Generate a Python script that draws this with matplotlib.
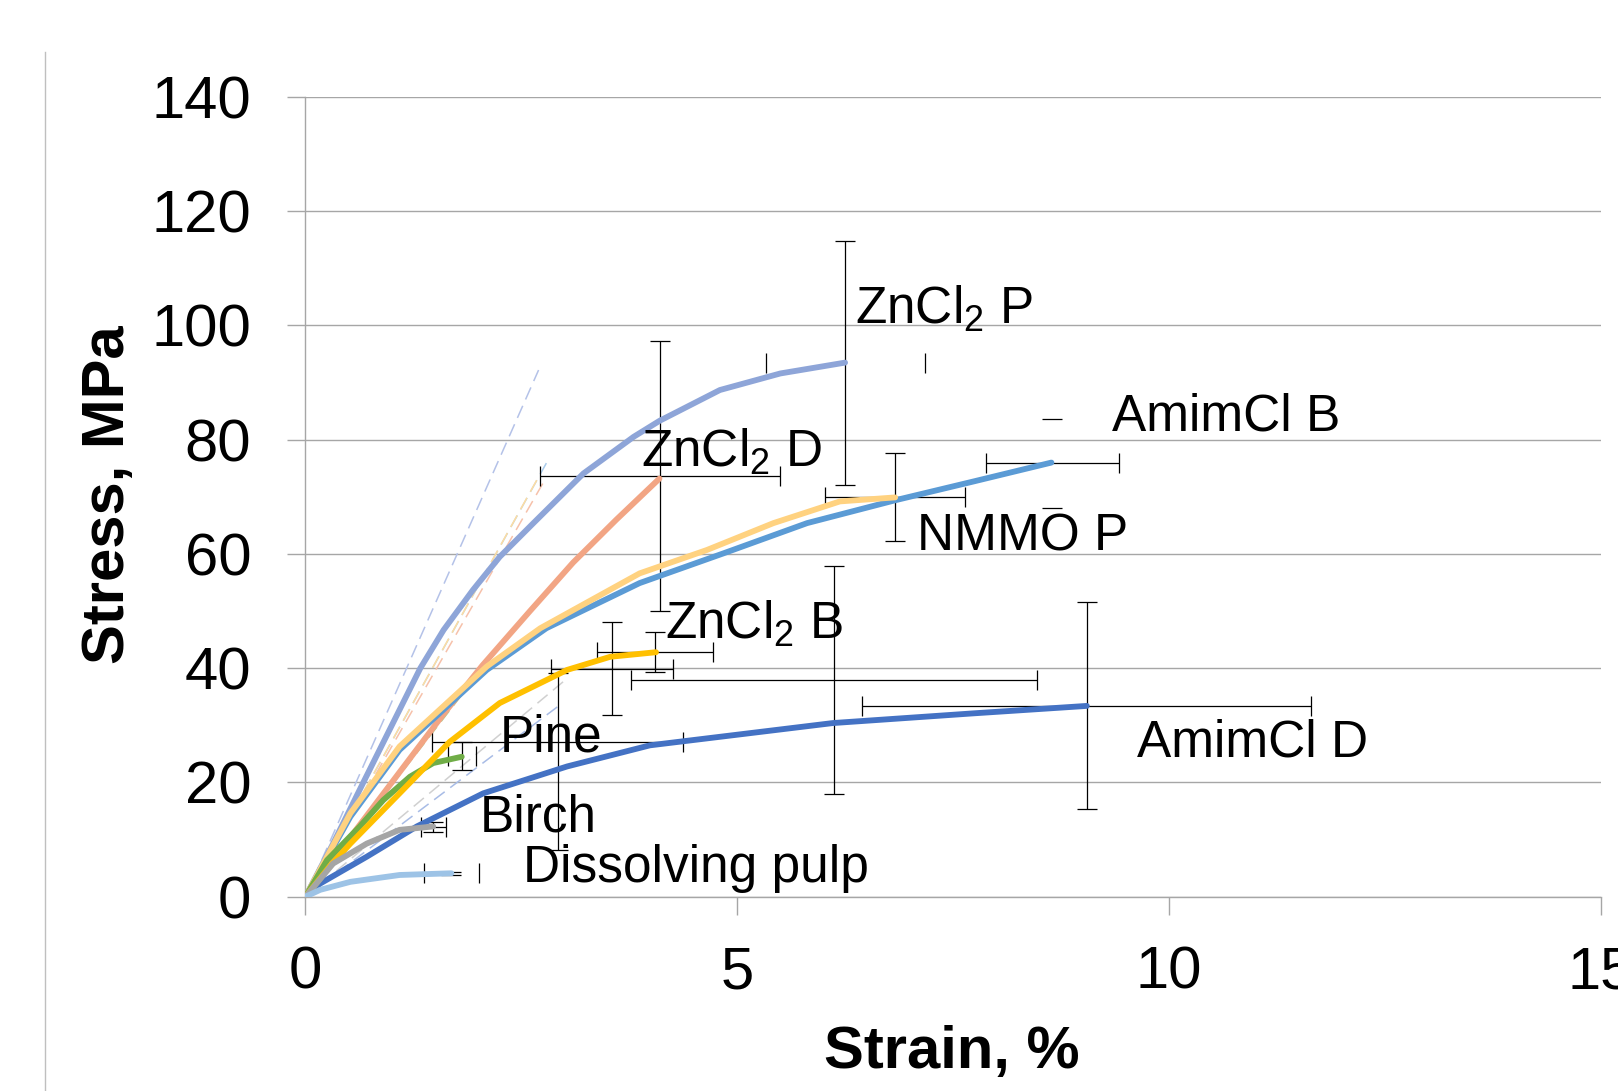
import matplotlib
matplotlib.use("Agg")
import matplotlib.pyplot as plt
from matplotlib.lines import Line2D

plt.rcParams['font.family'] = ['Liberation Sans', 'DejaVu Sans']
plt.rcParams['mathtext.fontset'] = 'custom'
plt.rcParams['mathtext.rm'] = 'Liberation Sans'
plt.rcParams['lines.scale_dashes'] = False

# stress-strain curves (strain %, stress MPa)
znp_x = [0, 0.32, 0.67, 1.33, 1.6, 1.94, 2.25, 2.64, 3.22, 3.8, 4.1, 4.8, 5.5, 6.25]
znp_y = [0, 9.3, 20, 40, 46.7, 53.7, 59.5, 65.4, 74.1, 80.5, 83.3, 88.7, 91.6, 93.5]
znd_x = [0, 0.7, 1.6, 2.05, 2.6, 3.1, 3.6, 4.1]
znd_y = [0, 14, 32, 40.5, 50, 58.5, 66, 73.2]
nmp_x = [0, 0.52, 1.09, 2.1, 2.72, 3.87, 4.65, 5.42, 6.19, 6.83]
nmp_y = [0, 14.6, 26.3, 40.3, 47, 56.6, 60.7, 65.4, 69.2, 69.9]
amb_x = [0, 0.52, 1.09, 2.1, 2.79, 3.87, 4.84, 5.81, 6.83, 7.74, 8.64]
amb_y = [0, 14, 25.7, 39.7, 47, 54.9, 60.1, 65.4, 69.4, 72.7, 76.0]
znb_x = [0, 0.28, 0.52, 1.09, 1.67, 2.25, 3.03, 3.53, 4.06]
znb_y = [0, 5.3, 9.3, 18.1, 27.1, 33.9, 39.7, 42, 42.8]
pine_x = [0, 0.25, 0.63, 0.9, 1.21, 1.48, 1.81]
pine_y = [0, 6.4, 12.3, 16.9, 21, 23.4, 24.5]
birch_x = [0, 0.32, 0.71, 1.09, 1.48]
birch_y = [0, 5.8, 9.3, 11.7, 12.3]
amd_x = [0, 0.17, 0.71, 1.29, 2.06, 3.03, 3.99, 6.11, 7.74, 9.05]
amd_y = [0, 2.3, 7.0, 12.3, 18.1, 22.8, 26.5, 30.4, 32.1, 33.4]
dp_x = [0, 0.17, 0.52, 1.09, 1.69]
dp_y = [0, 1.2, 2.6, 3.8, 4.1]

curves = [
    (znp_x, znp_y, '#8EA5D8'),
    (znd_x, znd_y, '#F2A584'),
    (amb_x, amb_y, '#5B9BD5'),
    (nmp_x, nmp_y, '#FFD280'),
    (amd_x, amd_y, '#4472C4'),
    (pine_x, pine_y, '#70AD47'),
    (znb_x, znb_y, '#FFC000'),
    (birch_x, birch_y, '#A5A5A5'),
    (dp_x, dp_y, '#9DC3E6'),
]

# initial modulus lines, end point of each (they start at the origin)
mod_x = [2.70, 2.79, 2.70, 2.77, 2.1, 3.03, 2.95]
mod_y = [92.2, 75.9, 73.5, 72.9, 41, 38.2, 33.6]
mod_c = ['#B4C2E8', '#A9CBEB', '#FFDDA0', '#F6C1AA', '#A9D18E', '#D0D0D0', '#A8BCE6']

# error bars
bar_x = [6.25, 4.11, 6.83, 8.65, 4.05, 1.81, 1.48, 9.05, 1.69, 3.55, 6.125, 2.92]
bar_y = [93.45, 73.6, 69.9, 75.85, 42.8, 24.65, 12.25, 33.45, 4.1, 39.9, 37.9, 27.1]
bar_xerr = [0.92, 1.39, 0.81, 0.77, 0.67, 0.165, 0.145, 2.6, 0.32, 0.71, 2.35, 1.45]
bar_ylo = [21.4, 23.6, 7.7, 7.75, 3.5, 2.45, 0.9, 18.15, 0.3, 8.15, 20.0, 19.0]
bar_yhi = [21.4, 23.6, 7.7, 7.75, 3.5, 2.45, 0.9, 18.15, 0.3, 8.15, 20.0, 12.1]
xline_on = [0, 1, 1, 1, 1, 0, 1, 1, 0, 1, 1, 1]
yline_on = [1, 1, 1, 0, 1, 1, 1, 1, 1, 1, 1, 1]

labels = [r'ZnCl$_\mathrm{2}$ P', r'ZnCl$_\mathrm{2}$ D', 'NMMO P', 'AmimCl B',
          r'ZnCl$_\mathrm{2}$ B', 'AmimCl D', 'Pine', 'Birch', 'Dissolving pulp']
label_x = [6.365, 3.89, 7.08, 9.34, 4.16, 9.63, 2.245, 2.02, 2.515]
label_y = [100.4, 75.3, 60.6, 81.6, 45.2, 24.6, 25.4, 11.4, 2.6]

xticks = [0, 5, 10, 15]
yticks = [0, 20, 40, 60, 80, 100, 120, 140]

fig = plt.figure(figsize=(16.18, 10.91), dpi=100)
ax = fig.add_axes([0.1888, 0.1781, 0.8004, 0.7330])

gray = '#A6A6A6'
for (mx, my, mc) in zip(mod_x, mod_y, mod_c):
    ax.plot([0, mx], [0, my], color=mc, lw=1.1, dashes=(9.5, 5), zorder=2)

for i in range(len(bar_x)):
    ex = ax.errorbar(bar_x[i], bar_y[i], xerr=bar_xerr[i], fmt='none', ecolor='black',
                     elinewidth=0.9, capsize=7, capthick=0.9, zorder=2.5)
    if not xline_on[i]:
        for lc in ex.lines[2]:
            lc.set_visible(False)
    ey = ax.errorbar(bar_x[i], bar_y[i], yerr=[[bar_ylo[i]], [bar_yhi[i]]], fmt='none',
                     ecolor='black', elinewidth=0.9, capsize=7, capthick=0.9, zorder=2.5)
    if not yline_on[i]:
        for lc in ey.lines[2]:
            lc.set_visible(False)

for (cx, cy, cc) in curves:
    ax.plot(cx, cy, color=cc, lw=4.2, solid_capstyle='round',
            solid_joinstyle='round', zorder=3)

for t, tx, ty in zip(labels, label_x, label_y):
    ax.text(tx, ty, t, fontsize=37, ha='left', va='baseline', zorder=5)

ax.set_xlim(0, 15)
ax.set_ylim(0, 140)
ax.set_xticks(xticks)
ax.set_yticks(yticks)
ax.set_xticklabels([str(v) for v in xticks])
ax.set_yticklabels([str(v) for v in yticks])
ax.yaxis.grid(True, color=gray, lw=1.0)
ax.set_axisbelow(True)
for s in ['top', 'right']:
    ax.spines[s].set_visible(False)
for s in ['left', 'bottom']:
    ax.spines[s].set_color(gray)
    ax.spines[s].set_linewidth(1.0)
ax.tick_params(axis='x', direction='out', length=13, width=1.0, color=gray,
               labelsize=43, pad=22)
ax.tick_params(axis='y', direction='out', length=13, width=1.0, color=gray,
               labelsize=43, pad=26)
for lbl in ax.get_xticklabels():
    lbl.set_clip_on(False)

fig.text(109 / 1618, 1 - 495 / 1091, 'Stress, MPa', rotation=90, fontsize=43,
         fontweight='bold', ha='center', va='center')
fig.text(952 / 1618, 1 - 1068 / 1091, 'Strain, %', fontsize=43,
         fontweight='bold', ha='center', va='baseline')

fig.add_artist(Line2D([45 / 1618, 45 / 1618], [0, 1 - 52 / 1091],
                      transform=fig.transFigure, color='#BFBFBF', lw=1.0))

fig.savefig('out.png', dpi=100)
